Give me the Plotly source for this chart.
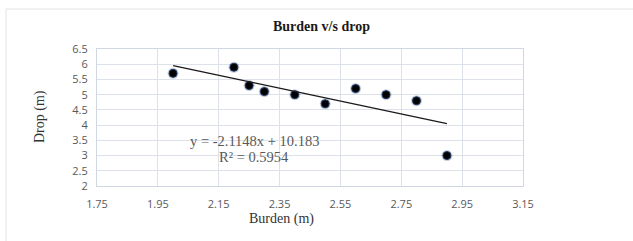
import plotly.graph_objects as go

burden = [2.0, 2.2, 2.25, 2.3, 2.4, 2.5, 2.6, 2.7, 2.8, 2.9]
drop = [5.7, 5.9, 5.3, 5.1, 5.0, 4.7, 5.2, 5.0, 4.8, 3.0]
slope = -2.1148
intercept = 10.183
r2 = 0.5954
x_ticks = [1.75, 1.95, 2.15, 2.35, 2.55, 2.75, 2.95, 3.15]
y_ticks = [2, 2.5, 3, 3.5, 4, 4.5, 5, 5.5, 6, 6.5]

W, H = 633, 241
L, R, T, B = 97, 110, 49, 55
pw, ph = W - L - R, H - T - B

def px(xp):
    return (xp - L) / pw

def py(yp):
    return (H - B - yp) / ph

trend_x = [min(burden), max(burden)]
trend_y = [slope * v + intercept for v in trend_x]

fig = go.Figure()
# soft glow behind markers
fig.add_trace(go.Scatter(x=burden, y=drop, mode="markers",
                         marker=dict(size=11, color="rgba(31,56,100,0.25)", line=dict(width=0)),
                         hoverinfo="skip", showlegend=False))
fig.add_trace(go.Scatter(x=burden, y=drop, mode="markers",
                         marker=dict(size=8, color="black", line=dict(color="#1F3864", width=1)),
                         showlegend=False))
fig.add_trace(go.Scatter(x=trend_x, y=trend_y, mode="lines",
                         line=dict(color="#1a1a1a", width=1.3), showlegend=False))

tickfont = dict(family="Open Sans, Liberation Sans, sans-serif", size=11, color="#595959")
serif = "Liberation Serif, Times New Roman, serif"

fig.update_layout(
    width=W, height=H,
    margin=dict(l=L, r=R, t=T, b=B),
    paper_bgcolor="white", plot_bgcolor="white",
    xaxis=dict(range=[1.75, 3.15], tickvals=x_ticks, ticktext=[f"{v:.2f}" for v in x_ticks],
               showgrid=True, gridcolor="#DDE2EA", gridwidth=1, zeroline=False,
               showline=True, linecolor="#D0D7E2", linewidth=1, mirror=True,
               ticks="outside", ticklen=8, tickcolor="rgba(0,0,0,0)", tickfont=tickfont),
    yaxis=dict(range=[2, 6.5], tickvals=y_ticks, ticktext=[f"{v:g}" for v in y_ticks],
               showgrid=True, gridcolor="#DDE2EA", gridwidth=1, zeroline=False,
               showline=True, linecolor="#D0D7E2", linewidth=1, mirror=True,
               ticks="outside", ticklen=6, tickcolor="rgba(0,0,0,0)", tickfont=tickfont),
    shapes=[dict(type="rect", xref="paper", yref="paper",
                 x0=px(6), x1=px(640), y0=py(250), y1=py(9),
                 line=dict(color="#E3E3E3", width=1), fillcolor="rgba(0,0,0,0)", layer="below")],
    annotations=[
        dict(text="<b>Burden v/s drop</b>", xref="paper", yref="paper", x=px(321), y=py(26),
             showarrow=False, font=dict(family=serif, size=14, color="#1a1a1a"),
             xanchor="center", yanchor="middle"),
        dict(text="Burden (m)", xref="paper", yref="paper", x=px(281), y=py(219),
             showarrow=False, font=dict(family=serif, size=14, color="#333333"),
             xanchor="center", yanchor="middle"),
        dict(text="Drop (m)", xref="paper", yref="paper", x=px(40), y=py(117),
             showarrow=False, textangle=-90, font=dict(family=serif, size=14, color="#333333"),
             xanchor="center", yanchor="middle"),
        dict(text=f"y = {slope}x + {intercept}", xref="paper", yref="paper", x=px(254), y=py(141),
             showarrow=False, font=dict(family=serif, size=14.5, color="#595959"),
             xanchor="center", yanchor="middle"),
        dict(text=f"R² = {r2}", xref="paper", yref="paper", x=px(253.5), y=py(156.5),
             showarrow=False, font=dict(family=serif, size=14.5, color="#595959"),
             xanchor="center", yanchor="middle"),
    ],
)

fig.write_html("out.html", config={"displayModeBar": False},
               post_script="document.body.style.margin='0px';document.body.style.padding='0px';")
